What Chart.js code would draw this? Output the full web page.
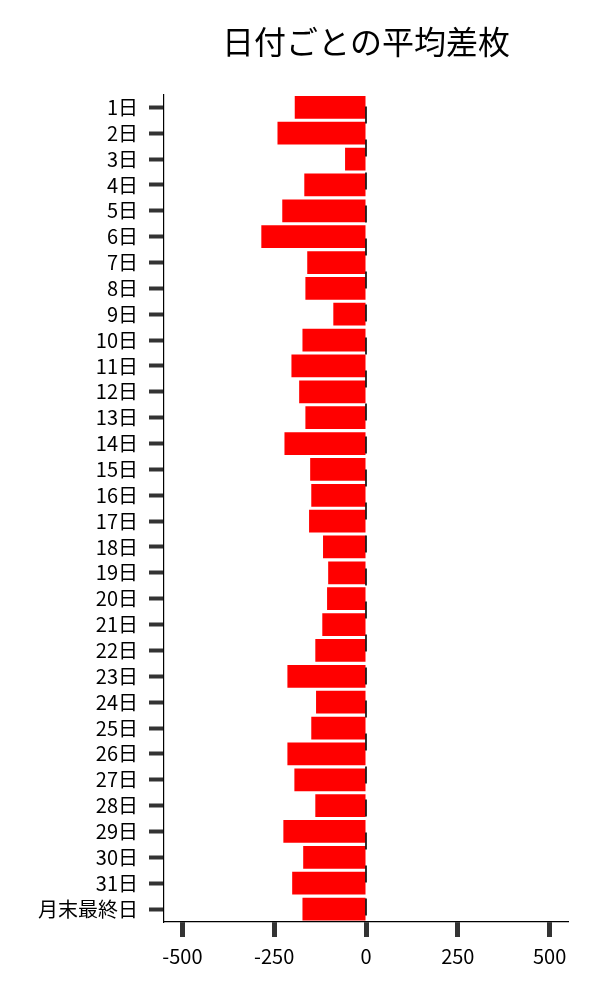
<!DOCTYPE html>
<html>
<head>
<meta charset="utf-8">
<script src="https://cdn.jsdelivr.net/npm/chart.js@4"></script>
<style>
  body { margin: 0; background: #fff; }
  #wrap { width: 600px; height: 1000px; }
</style>
</head>
<body>
<div id="wrap"><canvas id="barChart"></canvas></div>
<script>
const dayLabels = ['1日', '2日', '3日', '4日', '5日', '6日', '7日', '8日', '9日', '10日',
    '11日', '12日', '13日', '14日', '15日', '16日', '17日', '18日', '19日', '20日',
    '21日', '22日', '23日', '24日', '25日', '26日', '27日', '28日', '29日', '30日',
    '31日', '月末最終日'];
const avgDiff = [-194, -241, -57, -168, -228, -285, -160, -165, -89, -173,
    -203, -182, -165, -222, -152, -149, -155, -117, -103, -106,
    -119, -138, -214, -136, -149, -214, -195, -138, -225, -171,
    -201, -173];
const xTickValues = [-500, -250, 0, 250, 500];

document.addEventListener('DOMContentLoaded', function() {
    const font = 'Noto Sans CJK JP';

    // dashed line at zero
    const zeroLine = {
        id: 'zeroLine',
        afterDatasetsDraw(chart) {
            const ctx = chart.ctx;
            const area = chart.chartArea;
            const x = chart.scales.x.getPixelForValue(0);
            ctx.save();
            ctx.strokeStyle = '#000';
            ctx.lineWidth = 1.6;
            ctx.setLineDash([17, 16]);
            ctx.lineDashOffset = 21;
            ctx.beginPath();
            ctx.moveTo(x, area.top);
            ctx.lineTo(x, area.bottom);
            ctx.stroke();
            ctx.restore();
        }
    };

    new Chart(document.getElementById('barChart'), {
        type: 'bar',
        data: {
            labels: dayLabels,
            datasets: [{
                label: '平均差枚',
                data: avgDiff,
                backgroundColor: '#ff0000',
                barPercentage: 0.88,
                categoryPercentage: 1
            }]
        },
        options: {
            indexAxis: 'y',
            responsive: true,
            maintainAspectRatio: false,
            animation: false,
            layout: { padding: { left: 0, right: 32, top: 0, bottom: 0 } },
            plugins: {
                legend: { display: false },
                tooltip: { enabled: false },
                title: {
                    display: true,
                    text: '日付ごとの平均差枚',
                    fullSize: false,
                    color: '#000',
                    font: { family: font, size: 32, weight: 'normal' },
                    padding: { top: 23, bottom: 33 }
                }
            },
            scales: {
                x: {
                    min: -550,
                    max: 550,
                    afterBuildTicks: scale => {
                        scale.ticks = xTickValues.map(v => ({ value: v }));
                    },
                    afterFit: scale => { scale.height = 78; },
                    grid: {
                        drawOnChartArea: false,
                        drawTicks: true,
                        tickLength: 15,
                        tickWidth: 5,
                        tickColor: '#333'
                    },
                    border: { color: '#000', width: 1.2 },
                    ticks: {
                        color: '#000',
                        padding: 7,
                        font: { family: font, size: 20 }
                    }
                },
                y: {
                    offset: true,
                    afterFit: scale => { scale.width = 164; },
                    grid: {
                        offset: false,
                        drawOnChartArea: false,
                        drawTicks: true,
                        tickLength: 15,
                        tickWidth: 4,
                        tickColor: '#333'
                    },
                    border: { color: '#000', width: 1.2 },
                    ticks: {
                        color: '#000',
                        padding: 11,
                        autoSkip: false,
                        font: { family: font, size: 20 }
                    }
                }
            }
        },
        plugins: [zeroLine]
    });
});
</script>
</body>
</html>
